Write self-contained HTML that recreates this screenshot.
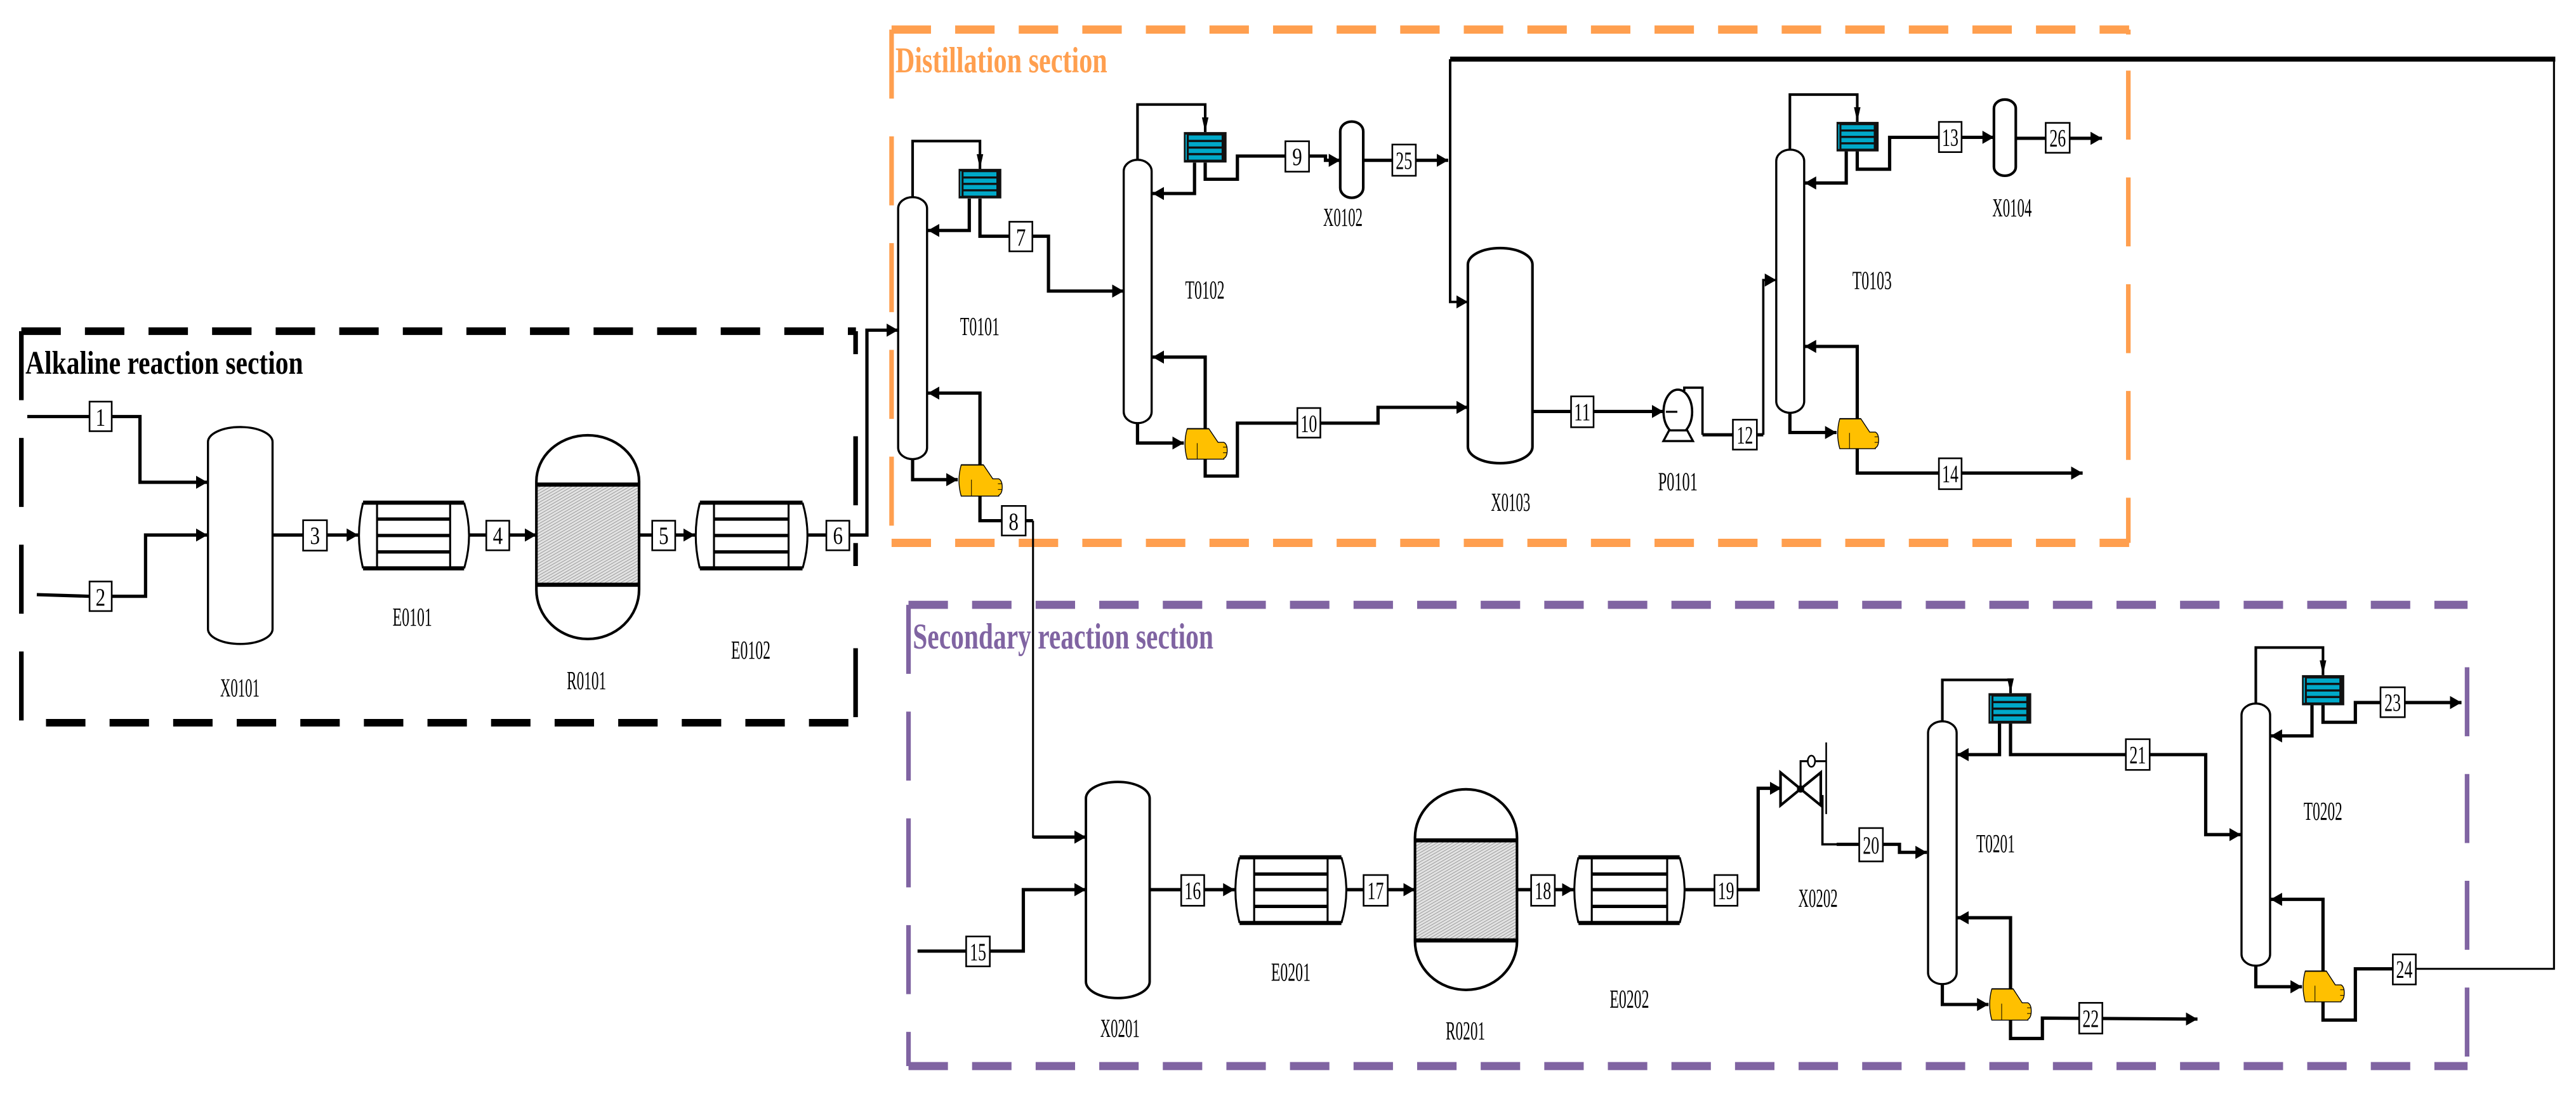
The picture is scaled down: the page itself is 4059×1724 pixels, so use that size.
<!DOCTYPE html>
<html><head><meta charset="utf-8"><style>html,body{margin:0;padding:0;background:#fff}svg{display:block}
.p{fill:none;stroke:#000;stroke-width:2}.t{fill:none;stroke:#000;stroke-width:1.2}
.v{fill:#fff;stroke:#000;stroke-width:1.3}
.bx{fill:#fff;stroke:#000;stroke-width:1}
.n{font-family:"Liberation Serif",serif;font-size:15px;fill:#000}
.lb{font-family:"Liberation Serif",serif;font-size:16px;fill:#000}
</style></head><body>
<svg width="4059" height="1724" viewBox="0 0 1568 666" preserveAspectRatio="none" xmlns="http://www.w3.org/2000/svg">
<defs>
<marker id="a" markerWidth="8" markerHeight="8" refX="7" refY="4" orient="auto" markerUnits="userSpaceOnUse"><path d="M0,0 L7,4 L0,8 Z" fill="#000"/></marker>
<marker id="d" markerWidth="6" markerHeight="10" refX="9" refY="2.5" orient="auto" markerUnits="userSpaceOnUse"><path d="M0,0.5 L9,2.5 L0,4.5 Z" fill="#000"/></marker>
<pattern id="h" width="1.6" height="1.6" patternUnits="userSpaceOnUse" patternTransform="rotate(60)"><rect width="1.6" height="1.6" fill="#e2e2e2"/><line x1="0" y1="0" x2="0" y2="1.6" stroke="#888" stroke-width="0.6"/></pattern>
<g id="reb"><path d="M2,0 H15 L20.5,8.5 H24 Q26,9.5 26,13.5 Q26,17.5 24,18.5 V19 H2 Q-0.6,9.5 2,0 Z" fill="#FFC000" stroke="#000" stroke-width="1.4" vector-effect="non-scaling-stroke"/><path d="M8,9 V19" stroke="#000" stroke-width="1" vector-effect="non-scaling-stroke"/><path d="M23.5,11.5 H26 M23.5,15 H26" stroke="#000" stroke-width="1" vector-effect="non-scaling-stroke"/><path d="M2,0 H15" stroke="#000" stroke-width="2" vector-effect="non-scaling-stroke"/></g>
<g id="con"><rect x="0" y="0" width="26" height="18" fill="#111"/><rect x="1" y="1.5" width="0.8" height="15" fill="#00A9C9"/><rect x="3" y="2" width="20" height="2.6" fill="#00A9C9"/><rect x="3" y="5.9" width="20" height="2.6" fill="#00A9C9"/><rect x="3" y="9.8" width="20" height="2.6" fill="#00A9C9"/><rect x="3" y="13.7" width="20" height="2.6" fill="#00A9C9"/></g>
</defs>

<!-- section boxes -->
<g fill="none" stroke="#000">
<line x1="13" y1="201.6" x2="521" y2="201.6" stroke-width="4.6" stroke-dasharray="24 14.7"/>
<line x1="28" y1="440" x2="521" y2="440" stroke-width="4.6" stroke-dasharray="24 14.7"/>
<line x1="13" y1="201.6" x2="13" y2="440" stroke-width="2.8" stroke-dasharray="42 23"/>
<line x1="520.8" y1="201.6" x2="520.8" y2="440" stroke-width="2.8" stroke-dasharray="14 50 42 23"/>
</g>
<g fill="none" stroke="#FF9F4F">
<line x1="542.7" y1="18" x2="1296" y2="18" stroke-width="5" stroke-dasharray="24 14.7"/>
<line x1="542.7" y1="330.5" x2="1296" y2="330.5" stroke-width="5" stroke-dasharray="24 14.7"/>
<line x1="542.7" y1="18" x2="542.7" y2="330.5" stroke-width="2.8" stroke-dasharray="42 23"/>
<line x1="1295.5" y1="18" x2="1295.5" y2="330.5" stroke-width="2.8" stroke-dasharray="3 22 42 23 42 23 42 23 42 23 42"/>
</g>
<g fill="none" stroke="#8064A2">
<line x1="553" y1="368.2" x2="1502" y2="368.2" stroke-width="4.9" stroke-dasharray="24 14.7"/>
<line x1="553" y1="649" x2="1502" y2="649" stroke-width="4.9" stroke-dasharray="24 14.7"/>
<line x1="553" y1="368.2" x2="553" y2="649" stroke-width="2.8" stroke-dasharray="42 23"/>
<line x1="1501.7" y1="368.2" x2="1501.7" y2="649" stroke-width="2.8" stroke-dasharray="0 38 42 23 42 23 42 23 42 23"/>
</g>
<text x="15.5" y="227.6" font-family="Liberation Serif,serif" font-weight="bold" font-size="20" textLength="169" lengthAdjust="spacingAndGlyphs">Alkaline reaction section</text>
<text x="545" y="44" font-family="Liberation Serif,serif" font-weight="bold" font-size="22" fill="#FF9F4F" textLength="129" lengthAdjust="spacingAndGlyphs">Distillation section</text>
<text x="555.6" y="394.8" font-family="Liberation Serif,serif" font-weight="bold" font-size="22" fill="#8064A2" textLength="183" lengthAdjust="spacingAndGlyphs">Secondary reaction section</text>

<!-- recycle line -->
<polyline class="t" points="1470.5,589.8 1554.6,589.8 1554.6,36"/>
<line x1="882.7" y1="36" x2="1555.4" y2="36" stroke="#000" stroke-width="3"/>
<polyline class="t" points="882.7,36 882.7,183.8 893.5,183.8" marker-end="url(#a)" style="stroke-width:1.5"/>

<!-- ALKALINE -->
<polyline class="p" points="16.6,253.6 85.2,253.6 85.2,293.6 126.3,293.6" marker-end="url(#a)"/>
<polyline class="p" points="22.4,362 54.5,363 88.6,363 88.6,325.7 126.3,325.7" marker-end="url(#a)"/>
<polyline class="p" points="166,325.7 218,325.7" marker-end="url(#a)"/>
<polyline class="p" points="286,325.7 326.5,325.7" marker-end="url(#a)"/>
<polyline class="p" points="389,325.7 423,325.7" marker-end="url(#a)"/>
<polyline class="p" points="492,325.7 527.7,325.7 527.7,201 546.7,201" marker-end="url(#a)"/>

<path class="v" d="M126.6,269 A19.6,9 0 0 1 165.9,269 V383 A19.6,9 0 0 1 126.6,383 Z"/>
<!-- E0101 -->
<g>
<path d="M221,306 Q216,326 221,346" class="t"/><path d="M282.5,306 Q288.5,326 282.5,346" class="t"/>
<line x1="221" y1="306" x2="282.5" y2="306" stroke="#000" stroke-width="2.5"/><line x1="221" y1="346" x2="282.5" y2="346" stroke="#000" stroke-width="2.5"/>
<line x1="229.5" y1="306" x2="229.5" y2="346" class="t"/><line x1="274" y1="306" x2="274" y2="346" class="t"/>
<line x1="229.5" y1="316" x2="274" y2="316" class="p"/><line x1="229.5" y1="326" x2="274" y2="326" class="p"/><line x1="229.5" y1="336" x2="274" y2="336" class="p"/>
</g>
<!-- R0101 -->
<rect x="326.5" y="295" width="62.5" height="61" fill="url(#h)"/>
<path class="v" style="fill:none;stroke-width:1.6" d="M326.5,293 A31.25,28 0 0 1 389,293 V359 A31.25,30 0 0 1 326.5,359 Z"/>
<line x1="326.5" y1="295" x2="389" y2="295" stroke="#000" stroke-width="2.5"/><line x1="326.5" y1="356" x2="389" y2="356" stroke="#000" stroke-width="2.5"/>
<!-- E0102 -->
<g>
<path d="M426,306 Q421,326 426,346" class="t"/><path d="M488.5,306 Q494.5,326 488.5,346" class="t"/>
<line x1="426" y1="306" x2="488.5" y2="306" stroke="#000" stroke-width="2.5"/><line x1="426" y1="346" x2="488.5" y2="346" stroke="#000" stroke-width="2.5"/>
<line x1="434.6" y1="306" x2="434.6" y2="346" class="t"/><line x1="480" y1="306" x2="480" y2="346" class="t"/>
<line x1="434.6" y1="316" x2="480" y2="316" class="p"/><line x1="434.6" y1="326" x2="480" y2="326" class="p"/><line x1="434.6" y1="336" x2="480" y2="336" class="p"/>
</g>
<rect class="bx" x="54.5" y="244.5" width="13.5" height="18"/><text class="n" x="61.2" y="259" text-anchor="middle" textLength="6" lengthAdjust="spacingAndGlyphs">1</text>
<rect class="bx" x="54.5" y="354" width="13.5" height="18"/><text class="n" x="61.2" y="368.5" text-anchor="middle" textLength="6" lengthAdjust="spacingAndGlyphs">2</text>
<rect class="bx" x="184.5" y="316.7" width="14.5" height="18.5"/><text class="n" x="191.7" y="331" text-anchor="middle" textLength="6" lengthAdjust="spacingAndGlyphs">3</text>
<rect class="bx" x="296" y="317" width="14" height="18"/><text class="n" x="303" y="331" text-anchor="middle" textLength="6" lengthAdjust="spacingAndGlyphs">4</text>
<rect class="bx" x="397" y="317" width="14" height="18"/><text class="n" x="404" y="331" text-anchor="middle" textLength="6" lengthAdjust="spacingAndGlyphs">5</text>
<rect class="bx" x="503" y="317" width="14" height="18"/><text class="n" x="510" y="331" text-anchor="middle" textLength="6" lengthAdjust="spacingAndGlyphs">6</text>
<text class="lb" x="146" y="424" text-anchor="middle" textLength="24" lengthAdjust="spacingAndGlyphs">X0101</text>
<text class="lb" x="251" y="381" text-anchor="middle" textLength="24" lengthAdjust="spacingAndGlyphs">E0101</text>
<text class="lb" x="357" y="419.5" text-anchor="middle" textLength="24" lengthAdjust="spacingAndGlyphs">R0101</text>
<text class="lb" x="457" y="401" text-anchor="middle" textLength="24" lengthAdjust="spacingAndGlyphs">E0102</text>

<!-- DISTILLATION -->
<path class="v" d="M546.7,127 A8.8,7 0 0 1 564.3,127 V272.5 A8.8,7 0 0 1 546.7,272.5 Z"/>
<polyline class="t" points="555.5,120 555.5,85.9 596.5,85.9 596.5,102.8" marker-end="url(#d)" style="stroke-width:1.6"/>
<polyline class="p" points="590,120.9 590,140.3 564.8,140.3" marker-end="url(#a)"/>
<polyline class="p" points="596.5,120.9 596.5,143.8 638.2,143.8 638.2,177.2 684,177.2" marker-end="url(#a)"/>
<polyline class="p" points="555.5,279.5 555.5,292 583,292" marker-end="url(#a)"/>
<polyline class="p" points="596.5,283 596.5,239.3 564.8,239.3" marker-end="url(#a)"/>
<polyline class="p" points="596.5,302 596.5,317 628.8,317"/>
<polyline class="t" points="628.8,317 628.8,509.6 640,509.6"/>
<polyline class="p" points="628.8,509.6 661,509.6" marker-end="url(#a)"/>
<use href="#con" transform="translate(583.5,102.8)"/>
<use href="#reb" transform="translate(583,283) scale(1.04,1)"/>
<rect class="bx" x="614.4" y="135" width="14" height="18"/><text class="n" x="621.4" y="149.5" text-anchor="middle" textLength="6" lengthAdjust="spacingAndGlyphs">7</text>
<rect class="bx" x="609.8" y="308" width="14.5" height="18"/><text class="n" x="617" y="322.5" text-anchor="middle" textLength="6" lengthAdjust="spacingAndGlyphs">8</text>
<text class="lb" x="596.4" y="204" text-anchor="middle" textLength="24" lengthAdjust="spacingAndGlyphs">T0101</text>

<path class="v" d="M684,104.3 A8.5,7 0 0 1 701,104.3 V250.6 A8.5,7 0 0 1 684,250.6 Z"/>
<polyline class="t" points="692.4,97.3 692.4,63.6 733.6,63.6 733.6,80.4" marker-end="url(#d)" style="stroke-width:1.6"/>
<polyline class="p" points="727.1,99 727.1,117.8 701.5,117.8" marker-end="url(#a)"/>
<polyline class="p" points="733.6,99 733.6,109.1 753.2,109.1 753.2,95 806.8,95 806.8,97.6 815.8,97.6" marker-end="url(#a)"/>
<polyline class="p" points="692.4,257.6 692.4,269.7 720.6,269.7" marker-end="url(#a)"/>
<polyline class="p" points="733.6,261 733.6,217.4 701.5,217.4" marker-end="url(#a)"/>
<polyline class="p" points="733.6,279.5 733.6,289.8 753.2,289.8 753.2,257.6 838.8,257.6 838.8,248 893.5,248" marker-end="url(#a)"/>
<use href="#con" transform="translate(720.6,80.4) scale(1,1.03)"/>
<use href="#reb" transform="translate(720.6,261) scale(1.015,0.975)"/>
<rect class="bx" x="782.4" y="86" width="14.4" height="18.5"/><text class="n" x="789.6" y="100.5" text-anchor="middle" textLength="6" lengthAdjust="spacingAndGlyphs">9</text>
<rect class="bx" x="789.7" y="248.4" width="14" height="18"/><text class="n" x="796.7" y="262.8" text-anchor="middle" textLength="10" lengthAdjust="spacingAndGlyphs">10</text>
<text class="lb" x="733.4" y="181.7" text-anchor="middle" textLength="24" lengthAdjust="spacingAndGlyphs">T0102</text>

<path class="v" d="M815.8,80 A7,6 0 0 1 829.8,80 V114.4 A7,6 0 0 1 815.8,114.4 Z" style="stroke-width:1.6"/>
<polyline class="p" points="829.8,97.6 881.5,97.6" marker-end="url(#a)"/>
<rect class="bx" x="847.5" y="88" width="14.3" height="19"/><text class="n" x="854.6" y="102.7" text-anchor="middle" textLength="10" lengthAdjust="spacingAndGlyphs">25</text>
<text class="lb" x="817.4" y="137.6" text-anchor="middle" textLength="24" lengthAdjust="spacingAndGlyphs">X0102</text>

<path class="v" d="M893.5,161 A19.65,10 0 0 1 932.8,161 V272 A19.65,10 0 0 1 893.5,272 Z" style="stroke-width:1.6"/>
<text class="lb" x="919.5" y="311" text-anchor="middle" textLength="24" lengthAdjust="spacingAndGlyphs">X0103</text>
<polyline class="p" points="932.8,250.5 1012.5,250.5" marker-end="url(#a)"/>
<rect class="bx" x="956.3" y="241.3" width="13.7" height="18.8"/><text class="n" x="963.1" y="255.8" text-anchor="middle" textLength="10" lengthAdjust="spacingAndGlyphs">11</text>
<ellipse cx="1021.3" cy="250.7" rx="8.7" ry="13.5" fill="#fff" stroke="#000" stroke-width="1.4"/>
<polyline class="t" points="1014,250.7 1021,250.7"/>
<path d="M1016,262 H1027 L1030.5,268.5 H1012.5 Z" fill="#fff" stroke="#000" stroke-width="1.3"/>
<polyline class="t" points="1025.2,238 1025.2,236 1036.3,236 1036.3,264.7" style="stroke-width:1.4"/>
<polyline class="p" points="1036.3,264.7 1073.3,264.7"/>
<polyline class="t" points="1073.3,264.7 1073.3,170.5 1081.2,170.5" marker-end="url(#a)" style="stroke-width:1.4"/>
<rect class="bx" x="1054.8" y="255.5" width="14.6" height="18.2"/><text class="n" x="1062.1" y="269.8" text-anchor="middle" textLength="10" lengthAdjust="spacingAndGlyphs">12</text>
<text class="lb" x="1021.3" y="298.4" text-anchor="middle" textLength="24" lengthAdjust="spacingAndGlyphs">P0101</text>

<path class="v" d="M1081.2,98.1 A8.5,7 0 0 1 1098.2,98.1 V244.3 A8.5,7 0 0 1 1081.2,244.3 Z"/>
<polyline class="t" points="1089.5,91.1 1089.5,57.6 1130.5,57.6 1130.5,74.2" marker-end="url(#d)" style="stroke-width:1.6"/>
<polyline class="p" points="1123.8,92.2 1123.8,111.4 1098.5,111.4" marker-end="url(#a)"/>
<polyline class="p" points="1130.5,92.2 1130.5,103 1150.2,103 1150.2,83.6 1213.7,83.6" marker-end="url(#a)"/>
<polyline class="p" points="1089.5,251.3 1089.5,263.3 1117.9,263.3" marker-end="url(#a)"/>
<polyline class="p" points="1130.5,254.9 1130.5,210.9 1098.5,210.9" marker-end="url(#a)"/>
<polyline class="p" points="1130.5,273.1 1130.5,288 1267.7,288" marker-end="url(#a)"/>
<use href="#con" transform="translate(1117.9,74.2) scale(0.985,1)"/>
<use href="#reb" transform="translate(1117.9,254.9) scale(0.985,0.96)"/>
<rect class="bx" x="1180.2" y="74.2" width="13.8" height="18.4"/><text class="n" x="1187.1" y="88.6" text-anchor="middle" textLength="10" lengthAdjust="spacingAndGlyphs">13</text>
<rect class="bx" x="1180.2" y="279" width="13.8" height="18.8"/><text class="n" x="1187.1" y="293.5" text-anchor="middle" textLength="10" lengthAdjust="spacingAndGlyphs">14</text>
<text class="lb" x="1139.5" y="176" text-anchor="middle" textLength="24" lengthAdjust="spacingAndGlyphs">T0103</text>
<path class="v" d="M1213.7,66 A6.65,5.4 0 0 1 1227,66 V101.6 A6.65,5.4 0 0 1 1213.7,101.6 Z" style="stroke-width:1.6"/>
<polyline class="p" points="1227,84.2 1279.5,84.2" marker-end="url(#a)"/>
<rect class="bx" x="1245.2" y="74.8" width="14.6" height="18.2"/><text class="n" x="1252.5" y="89" text-anchor="middle" textLength="10" lengthAdjust="spacingAndGlyphs">26</text>
<text class="lb" x="1224.7" y="131.7" text-anchor="middle" textLength="24" lengthAdjust="spacingAndGlyphs">X0104</text>

<!-- SECONDARY -->
<polyline class="p" points="558.5,579 622.9,579 622.9,541.6 661,541.6" marker-end="url(#a)"/>
<path class="v" d="M661,486 A19.4,10 0 0 1 699.8,486 V597.6 A19.4,10 0 0 1 661,597.6 Z" style="stroke-width:1.5"/>
<polyline class="p" points="699.8,541.6 751.5,541.6" marker-end="url(#a)"/>
<g>
<path d="M754.5,521.9 Q749.5,541.9 754.5,561.9" class="t"/><path d="M816.5,521.9 Q822.5,541.9 816.5,561.9" class="t"/>
<line x1="754.5" y1="521.9" x2="816.5" y2="521.9" stroke="#000" stroke-width="2.5"/><line x1="754.5" y1="561.9" x2="816.5" y2="561.9" stroke="#000" stroke-width="2.5"/>
<line x1="763.4" y1="521.9" x2="763.4" y2="561.9" class="t"/><line x1="808.1" y1="521.9" x2="808.1" y2="561.9" class="t"/>
<line x1="763.4" y1="532.1" x2="808.1" y2="532.1" class="p"/><line x1="763.4" y1="541.6" x2="808.1" y2="541.6" class="p"/><line x1="763.4" y1="551.8" x2="808.1" y2="551.8" class="p"/>
</g>
<polyline class="p" points="820,541.6 861.3,541.6" marker-end="url(#a)"/>
<rect x="861.3" y="511.6" width="62.1" height="60.9" fill="url(#h)"/>
<path class="v" style="fill:none;stroke-width:1.6" d="M861.3,510 A31.05,29.5 0 0 1 923.4,510 V573 A31.05,29.6 0 0 1 861.3,573 Z"/>
<line x1="861.3" y1="511.6" x2="923.4" y2="511.6" stroke="#000" stroke-width="2.5"/><line x1="861.3" y1="572.5" x2="923.4" y2="572.5" stroke="#000" stroke-width="2.5"/>
<polyline class="p" points="923.4,541.6 957.8,541.6" marker-end="url(#a)"/>
<g>
<path d="M960.8,521.9 Q955.8,541.9 960.8,561.9" class="t"/><path d="M1022.4,521.9 Q1028.4,541.9 1022.4,561.9" class="t"/>
<line x1="960.8" y1="521.9" x2="1022.4" y2="521.9" stroke="#000" stroke-width="2.5"/><line x1="960.8" y1="561.9" x2="1022.4" y2="561.9" stroke="#000" stroke-width="2.5"/>
<line x1="968.9" y1="521.9" x2="968.9" y2="561.9" class="t"/><line x1="1014.8" y1="521.9" x2="1014.8" y2="561.9" class="t"/>
<line x1="968.9" y1="532.1" x2="1014.8" y2="532.1" class="p"/><line x1="968.9" y1="541.6" x2="1014.8" y2="541.6" class="p"/><line x1="968.9" y1="551.8" x2="1014.8" y2="551.8" class="p"/>
</g>
<polyline class="p" points="1025.9,541.6 1070.2,541.6 1070.2,479.9 1084.3,479.9" marker-end="url(#a)"/>
<rect class="bx" x="588.1" y="570.1" width="14.4" height="18.2"/><text class="n" x="595.3" y="584.5" text-anchor="middle" textLength="10" lengthAdjust="spacingAndGlyphs">15</text>
<rect class="bx" x="719" y="532.7" width="14" height="18.7"/><text class="n" x="726" y="547.2" text-anchor="middle" textLength="10" lengthAdjust="spacingAndGlyphs">16</text>
<rect class="bx" x="830" y="532.7" width="14.7" height="18.7"/><text class="n" x="837.3" y="547.2" text-anchor="middle" textLength="10" lengthAdjust="spacingAndGlyphs">17</text>
<rect class="bx" x="932" y="532.7" width="14.4" height="18.7"/><text class="n" x="939.2" y="547.2" text-anchor="middle" textLength="10" lengthAdjust="spacingAndGlyphs">18</text>
<rect class="bx" x="1043.6" y="532.7" width="14" height="18.7"/><text class="n" x="1050.6" y="547.2" text-anchor="middle" textLength="10" lengthAdjust="spacingAndGlyphs">19</text>
<text class="lb" x="681.7" y="631.2" text-anchor="middle" textLength="24" lengthAdjust="spacingAndGlyphs">X0201</text>
<text class="lb" x="785.7" y="597.1" text-anchor="middle" textLength="24" lengthAdjust="spacingAndGlyphs">E0201</text>
<text class="lb" x="892" y="632.8" text-anchor="middle" textLength="24" lengthAdjust="spacingAndGlyphs">R0201</text>
<text class="lb" x="991.8" y="613.5" text-anchor="middle" textLength="24" lengthAdjust="spacingAndGlyphs">E0202</text>

<!-- valve X0202 -->
<path d="M1083.8,470.3 L1096,480.3 L1083.8,490.3 Z M1108.3,470.3 L1096,480.3 L1108.3,490.3 Z" fill="#fff" stroke="#000" stroke-width="1.6"/>
<circle cx="1096" cy="480.3" r="2.2" fill="#000"/>
<polyline class="t" points="1096,480.3 1096,463.4 1100.4,463.4"/>
<ellipse cx="1102.6" cy="463.4" rx="2.2" ry="3.4" fill="#fff" stroke="#000" stroke-width="1"/>
<polyline class="t" points="1104.8,463.4 1111.6,463.4"/>
<line x1="1111.6" y1="452" x2="1111.6" y2="495.6" stroke="#000" stroke-width="1"/>
<polyline class="t" points="1109.3,484 1109.3,514 1120,514" style="stroke-width:1.4"/>
<polyline class="p" points="1118,514 1156.2,514 1156.2,518.9 1172.9,518.9" marker-end="url(#a)"/>
<rect class="bx" x="1131.7" y="504.1" width="14.4" height="20.3"/><text class="n" x="1138.9" y="519.5" text-anchor="middle" textLength="10" lengthAdjust="spacingAndGlyphs">20</text>
<text class="lb" x="1106.6" y="552" text-anchor="middle" textLength="24" lengthAdjust="spacingAndGlyphs">X0202</text>

<path class="v" d="M1173.6,446.1 A8.7,7 0 0 1 1191,446.1 V592.1 A8.7,7 0 0 1 1173.6,592.1 Z"/>
<polyline class="t" points="1182.3,439.1 1182.3,413.9 1223.8,413.9 1223.8,422" marker-end="url(#d)" style="stroke-width:1.6"/>
<polyline class="p" points="1217.1,440.5 1217.1,459.4 1191.3,459.4" marker-end="url(#a)"/>
<polyline class="p" points="1223.8,440.5 1223.8,459.4 1342.6,459.4 1342.6,508.1 1364,508.1" marker-end="url(#a)"/>
<polyline class="p" points="1182.3,599.1 1182.3,611.5 1210.4,611.5" marker-end="url(#a)"/>
<polyline class="p" points="1223.8,602 1223.8,558.7 1191.3,558.7" marker-end="url(#a)"/>
<polyline class="p" points="1223.8,621 1223.8,632.2 1243.2,632.2 1243.2,619.8 1337.6,620.4" marker-end="url(#a)"/>
<use href="#con" transform="translate(1210.4,422) scale(1,1.03)"/>
<use href="#reb" transform="translate(1210.4,602)"/>
<rect class="bx" x="1294" y="450" width="14.5" height="18.7"/><text class="n" x="1301.2" y="464.5" text-anchor="middle" textLength="10" lengthAdjust="spacingAndGlyphs">21</text>
<rect class="bx" x="1265.6" y="610.5" width="14.1" height="18.7"/><text class="n" x="1272.6" y="625" text-anchor="middle" textLength="10" lengthAdjust="spacingAndGlyphs">22</text>
<text class="lb" x="1214.7" y="518.9" text-anchor="middle" textLength="23.5" lengthAdjust="spacingAndGlyphs">T0201</text>

<path class="v" d="M1364.4,435.3 A8.7,7 0 0 1 1381.8,435.3 V580.9 A8.7,7 0 0 1 1364.4,580.9 Z"/>
<polyline class="t" points="1373.1,428.3 1373.1,394.2 1414,394.2 1414,411" marker-end="url(#d)" style="stroke-width:1.6"/>
<polyline class="p" points="1407.3,429.3 1407.3,448 1382.1,448" marker-end="url(#a)"/>
<polyline class="p" points="1414,429.3 1414,439.7 1433.7,439.7 1433.7,427.7 1498.3,427.7" marker-end="url(#a)"/>
<polyline class="p" points="1373.1,587.9 1373.1,600.7 1401.2,600.7" marker-end="url(#a)"/>
<polyline class="p" points="1414,591.2 1414,547.5 1382.1,547.5" marker-end="url(#a)"/>
<polyline class="p" points="1414,609.9 1414,621 1433.7,621 1433.7,589.8 1470.5,589.8"/>
<use href="#con" transform="translate(1401.2,411) scale(0.99,1.02)"/>
<use href="#reb" transform="translate(1401.2,591.2) scale(0.99,0.985)"/>
<rect class="bx" x="1449" y="418.4" width="14.8" height="18.2"/><text class="n" x="1456.4" y="432.6" text-anchor="middle" textLength="10" lengthAdjust="spacingAndGlyphs">23</text>
<rect class="bx" x="1456.5" y="581" width="14" height="18.3"/><text class="n" x="1463.5" y="595.2" text-anchor="middle" textLength="10" lengthAdjust="spacingAndGlyphs">24</text>
<text class="lb" x="1414" y="499.2" text-anchor="middle" textLength="23.5" lengthAdjust="spacingAndGlyphs">T0202</text>
</svg>
</body></html>
